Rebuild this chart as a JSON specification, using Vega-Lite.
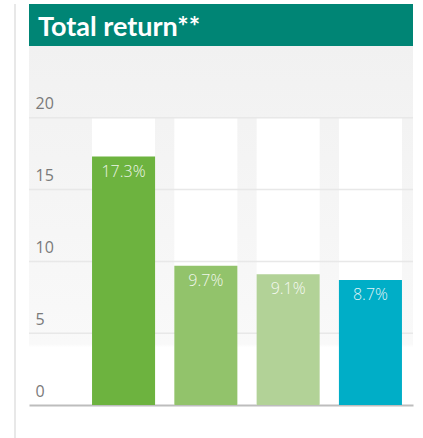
{
  "$schema": "https://vega.github.io/schema/vega-lite/v6.json",
  "padding": {"left": 0, "top": 3, "right": 0, "bottom": 0},
  "background": "#ffffff",
  "config": {
    "view": {"stroke": null},
    "font": "Open Sans"
  },
  "datasets": {
    "returns": [
      {"fund": "Fund A", "value": 17.3, "label": "17.3%"},
      {"fund": "Fund B", "value": 9.7, "label": "9.7%"},
      {"fund": "Fund C", "value": 9.1, "label": "9.1%"},
      {"fund": "Fund D", "value": 8.7, "label": "8.7%"}
    ],
    "header": [{"title": "Total return**"}],
    "grid": [{"tick": 5}, {"tick": 10}, {"tick": 15}, {"tick": 20}]
  },
  "spacing": 12,
  "hconcat": [
    {
      "width": 15,
      "height": 435,
      "data": {"name": "header"},
      "mark": {"type": "rule", "color": "#e0e0e0", "strokeWidth": 1.5},
      "encoding": {"x": {"value": 15}}
    },
    {
      "spacing": 0,
      "vconcat": [
        {
          "width": 384,
          "height": 42,
          "view": {"fill": "#008575", "stroke": null},
          "data": {"name": "header"},
          "mark": {
            "type": "text",
            "align": "left",
            "baseline": "alphabetic",
            "font": "Lato",
            "fontWeight": "bold",
            "fontSize": 27,
            "color": "#ffffff"
          },
          "encoding": {
            "text": {"field": "title"},
            "x": {"value": 9},
            "y": {"value": 32}
          }
        },
        {
          "width": 384,
          "height": 359,
          "view": {
            "stroke": null,
            "fill": {
              "gradient": "linear",
              "x1": 0, "y1": 0, "x2": 0, "y2": 1,
              "stops": [
                {"offset": 0, "color": "#f1f1f1"},
                {"offset": 0.83, "color": "#f9f9f9"},
                {"offset": 0.84, "color": "#ffffff"},
                {"offset": 1, "color": "#ffffff"}
              ]
            }
          },
          "data": {"name": "returns"},
          "encoding": {
            "x": {
              "field": "fund",
              "type": "nominal",
              "sort": null,
              "scale": {"paddingInner": 0.234, "paddingOuter": 0.45, "align": 0.851},
              "axis": {
                "title": null,
                "labels": false,
                "ticks": false,
                "domainColor": "#bdbdbd",
                "domainWidth": 2
              }
            }
          },
          "layer": [
            {
              "mark": {"type": "bar", "color": "#ffffff"},
              "encoding": {
                "y": {
                  "datum": 20,
                  "type": "quantitative",
                  "scale": {"domain": [0, 25], "nice": false},
                  "axis": {
                    "title": null,
                    "values": [0, 5, 10, 15, 20],
                    "ticks": false,
                    "domain": false,
                    "grid": false,
                    "labelAlign": "left",
                    "labelPadding": -6,
                    "labelBaseline": "alphabetic",
                    "labelOffset": -9,
                    "labelFontSize": 16,
                    "labelFontWeight": "normal",
                    "labelColor": "#7a7a7a",
                    "zindex": 1
                  }
                },
                "y2": {"datum": 0}
              }
            },
            {
              "data": {"name": "grid"},
              "mark": {"type": "rule", "color": "#e8e8e8", "strokeWidth": 1.5},
              "encoding": {
                "x": null,
                "y": {"field": "tick", "type": "quantitative"}
              }
            },
            {
              "mark": {"type": "bar"},
              "encoding": {
                "y": {"field": "value", "type": "quantitative"},
                "color": {
                  "field": "fund",
                  "type": "nominal",
                  "legend": null,
                  "scale": {"range": ["#6db33f", "#92c36b", "#b2d297", "#00aec7"]}
                }
              }
            },
            {
              "mark": {
                "type": "text",
                "baseline": "top",
                "dy": 7,
                "fontSize": 16,
                "fontWeight": 300,
                "color": "#ffffff",
                "opacity": 0.88
              },
              "encoding": {
                "y": {"field": "value", "type": "quantitative"},
                "text": {"field": "label"}
              }
            }
          ]
        }
      ]
    }
  ]
}
